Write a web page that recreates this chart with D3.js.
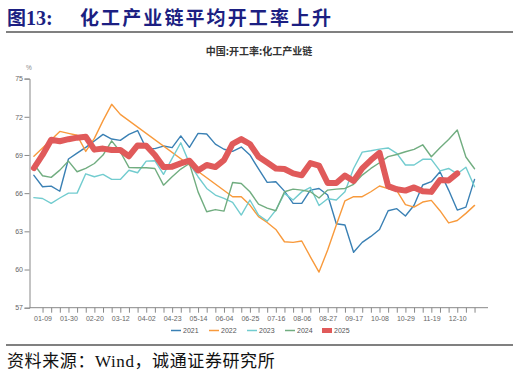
<!DOCTYPE html>
<html><head><meta charset="utf-8">
<script src="https://cdn.jsdelivr.net/npm/d3@7"></script>
<style>
html,body{margin:0;padding:0;background:#fff;}
svg{display:block;}
</style></head>
<body>
<script>
const categories = ["01-02","01-09","01-16","01-23","01-30","02-06","02-13","02-20","02-27","03-05","03-12","03-19","03-26","04-02","04-09","04-16","04-23","04-30","05-07","05-14","05-21","05-28","06-04","06-11","06-18","06-25","07-02","07-09","07-16","07-23","07-30","08-06","08-13","08-20","08-27","09-03","09-10","09-17","09-24","10-01","10-08","10-15","10-22","10-29","11-05","11-12","11-19","11-26","12-03","12-10","12-17","12-24"];
const tickLabels = ["01-09","01-30","02-20","03-12","04-02","04-23","05-14","06-04","06-25","07-16","08-06","08-27","09-17","10-08","10-29","11-19","12-10"];
const yTicks = [57,60,63,66,69,72,75];
const seriesNames = ["2021","2022","2023","2024","2025"];

const s2021 = [67.4,66.5,66.55,66.15,68.68,69.15,69.6,70.1,70.62,70.25,70.15,70.62,70.92,69.52,69.5,69.7,69.58,70.5,69.6,70.7,70.65,69.85,69.45,69.28,69.62,69.0,67.9,66.85,66.9,66.16,65.2,65.2,66.24,66.37,65.85,63.6,63.5,61.35,62.13,62.6,63.15,64.62,64.78,64.2,65.05,66.64,66.9,67.68,66.24,64.67,64.9,67.08];
const s2022 = [68.9,69.55,70.2,70.85,70.7,70.55,69.28,70.3,71.7,72.98,72.19,null,null,null,null,null,null,null,null,null,null,null,null,65.72,65.72,65.06,64.15,63.7,63.15,62.18,62.13,62.24,61.0,59.8,61.53,63.5,65.4,65.72,65.72,66.11,66.56,66.35,66.19,65.1,64.9,65.3,65.43,64.62,63.66,63.85,64.41,65.04];
const s2023 = [65.65,65.58,65.2,65.62,66.0,66.0,67.52,67.29,67.47,67.08,67.08,67.8,67.6,68.52,68.55,67.48,68.73,69.96,68.34,67.29,66.37,65.85,65.59,65.27,64.28,65.46,64.28,63.8,64.67,65.98,65.46,66.1,66.45,65.03,65.56,65.46,66.11,67.94,69.22,69.33,69.46,69.55,69.12,68.21,68.21,68.66,68.66,67.75,67.94,67.52,68.04,66.5];
const s2024 = [68.27,67.37,67.24,67.81,68.52,67.68,67.95,68.33,68.99,70.11,69.25,68.02,67.99,67.99,67.94,66.63,67.29,67.89,68.33,66.1,64.54,64.71,64.59,66.84,66.76,66.11,65.13,64.82,64.62,66.11,66.32,66.24,66.11,65.62,66.24,66.32,66.37,66.69,67.42,67.94,68.39,68.87,69.04,69.25,69.44,69.8,68.86,69.57,70.22,70.96,68.84,67.92];
const s2025 = [67.97,69.0,70.2,70.08,70.24,70.36,70.43,69.42,69.5,69.39,69.39,68.9,69.75,69.72,69.0,68.05,68.08,68.34,68.55,67.78,68.21,68.05,68.6,69.88,70.25,69.86,68.86,68.4,67.93,67.9,67.55,67.4,68.36,68.17,66.8,66.8,67.38,66.96,67.95,68.6,69.17,66.55,66.3,66.2,66.45,66.15,66.1,67.03,67.0,67.55];

const seriesData = [s2021,s2022,s2023,s2024,s2025];
const colors = ["#3a80b4","#f89a3c","#72cccf","#71ad80","#e05a5a"];
const widths = [1.4,1.4,1.4,1.4,6];

const W=519,H=375;
const svg = d3.select("body").append("svg").attr("width",W).attr("height",H);

// Title
const title = svg.append("text").attr("x",7).attr("y",25)
  .attr("fill","#1c1f82").attr("font-size",19).attr("font-weight",700)
  .attr("font-family","'Noto Sans CJK SC', sans-serif");
title.append("tspan").text("图");
title.append("tspan").attr("font-family","'Liberation Serif', serif").attr("font-size",20).text("13:");
svg.append("text").attr("x",80).attr("y",25)
  .attr("fill","#1c1f82").attr("font-size",19).attr("font-weight",700)
  .attr("letter-spacing",2.1)
  .attr("font-family","'Noto Sans CJK SC', sans-serif")
  .text("化工产业链平均开工率上升");

svg.append("line").attr("x1",6).attr("x2",513).attr("y1",32).attr("y2",32)
  .attr("stroke","#808080").attr("stroke-width",2);

svg.append("text").attr("x",259).attr("y",55).attr("text-anchor","middle")
  .attr("font-size",10).attr("font-weight",700).attr("fill","#333")
  .attr("font-family","'Noto Sans CJK SC', sans-serif")
  .text("中国:开工率:化工产业链");

// Scales
const x = d3.scalePoint().domain(categories).range([33.9, 33.9+8.64*51]);
const y = d3.scaleLinear().domain([57,75]).range([307.7,78.6]);

// Y axis
const yAxis = svg.append("g").attr("transform","translate(29.5,0)")
  .call(d3.axisLeft(y).tickValues(yTicks).tickSize(5).tickPadding(1.5));
yAxis.select(".domain").attr("stroke","#888");
yAxis.selectAll(".tick line").attr("stroke","#888");
yAxis.selectAll(".tick text").attr("fill","#666").attr("font-size",7)
  .attr("font-family","'Liberation Sans', sans-serif");
svg.append("text").attr("x",29).attr("y",70).attr("text-anchor","middle")
  .attr("font-size",6.5).attr("fill","#888").attr("font-family","'Liberation Sans', sans-serif").text("%");

// X axis
const xg = svg.append("g").attr("transform","translate(0,307.7)");
xg.append("line").attr("x1",29.5).attr("x2",488).attr("stroke","#888");
const xAxis = d3.axisBottom(x).tickValues(categories.slice(1)).tickSize(5).tickPadding(3)
  .tickFormat(d => tickLabels.includes(d) ? d : "");
xg.call(xAxis);
xg.select(".domain").remove();
xg.selectAll(".tick line").attr("stroke","#888");
xg.selectAll(".tick text").attr("fill","#666").attr("font-size",7)
  .attr("font-family","'Liberation Sans', sans-serif");

// Lines
const line = d3.line()
  .x(d => x(d.c)).y(d => y(d.v));
seriesData.forEach((arr,k) => {
  const pts = arr.map((v,i) => ({c:categories[i], v})).filter(d => d.v !== null);
  svg.append("path").datum(pts)
    .attr("fill","none").attr("stroke",colors[k]).attr("stroke-width",widths[k])
    .attr("stroke-linejoin","round").attr("stroke-linecap","round")
    .attr("d",line);
});

// Legend
const legendX = [171,209,247,285];
const lg = svg.append("g");
seriesNames.forEach((n,k) => {
  const lx = k<4 ? legendX[k] : 322;
  if (k<4) {
    lg.append("line").attr("x1",lx).attr("x2",lx+10).attr("y1",330.5).attr("y2",330.5)
      .attr("stroke",colors[k]).attr("stroke-width",1.5);
  } else {
    lg.append("rect").attr("x",lx).attr("y",328).attr("width",10).attr("height",5).attr("fill",colors[k]);
  }
  lg.append("text").attr("x",lx+12).attr("y",333).attr("font-size",7).attr("fill","#555")
    .attr("font-family","'Liberation Sans', sans-serif").text(n);
});

svg.append("line").attr("x1",6).attr("x2",513).attr("y1",345).attr("y2",345)
  .attr("stroke","#808080").attr("stroke-width",2);

const src = svg.append("text").attr("x",7).attr("y",367).attr("font-size",17)
  .attr("fill","#111").attr("font-family","'Noto Sans CJK SC', sans-serif").attr("letter-spacing",0.6);
src.append("tspan").text("资料来源：");
src.append("tspan").attr("font-family","'Liberation Serif', serif").text("Wind");
src.append("tspan").text("，诚通证券研究所");
</script>
</body></html>
